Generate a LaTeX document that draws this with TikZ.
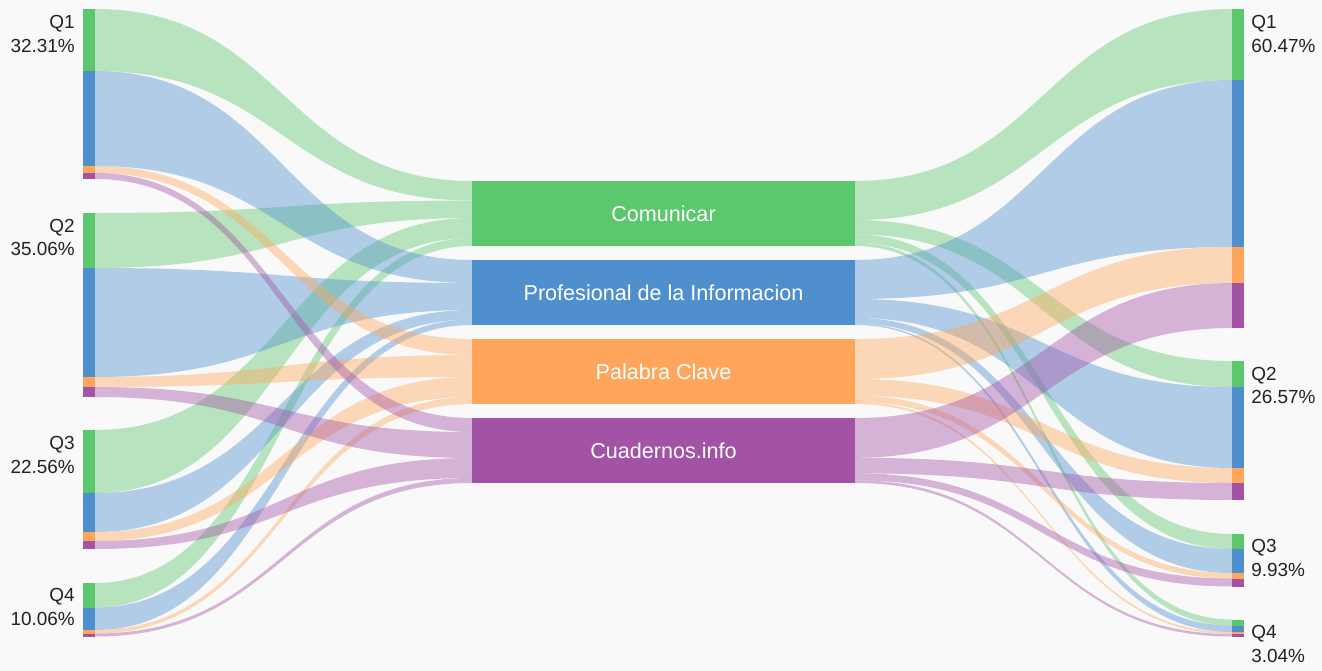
\documentclass[tikz,border=0pt]{standalone}
\usepackage{fontspec}
\setmainfont{Liberation Sans}
\definecolor{bgc}{HTML}{F9F9F9}
\definecolor{cG}{HTML}{5CC86E}
\definecolor{cB}{HTML}{4F8FCE}
\definecolor{cO}{HTML}{FFA65C}
\definecolor{cP}{HTML}{A353A6}
\definecolor{txt}{HTML}{222222}
\newcommand\sankeyL[5]{%
  \fill[#1,opacity=.42] (95,#2) .. controls (283.5,#2) and (283.5,#4) .. (472,#4) -- (472,#5) .. controls (283.5,#5) and (283.5,#3) .. (95,#3) -- cycle;}
\newcommand\sankeyR[5]{%
  \fill[#1,opacity=.42] (855,#2) .. controls (1043.5,#2) and (1043.5,#4) .. (1232,#4) -- (1232,#5) .. controls (1043.5,#5) and (1043.5,#3) .. (855,#3) -- cycle;}
\newcommand\lbar[5]{%
  \fill[cG] (83,#1) rectangle (95,#2);
  \fill[cB] (83,#2) rectangle (95,#3);
  \fill[cO] (83,#3) rectangle (95,#4);
  \fill[cP] (83,#4) rectangle (95,#5);}
\newcommand\rbar[5]{%
  \fill[cG] (1232,#1) rectangle (1244,#2);
  \fill[cB] (1232,#2) rectangle (1244,#3);
  \fill[cO] (1232,#3) rectangle (1244,#4);
  \fill[cP] (1232,#4) rectangle (1244,#5);}
\begin{document}
\begin{tikzpicture}[x=0.75pt,y=-0.75pt,
  journal/.style={minimum width=287.25pt,minimum height=48.75pt,inner sep=0pt,text=white,font=\fontsize{16.2}{19}\selectfont},
  lblL/.style={anchor=base east,inner sep=0pt,text=txt,font=\fontsize{14.2}{17}\selectfont},
  lblR/.style={anchor=base west,inner sep=0pt,text=txt,font=\fontsize{14.2}{17}\selectfont}]
\useasboundingbox (0,0) rectangle (1322,671);
\fill[bgc] (0,0) rectangle (1322,671);
% left flows
\sankeyL{cG}{9}{71}{181}{200.5}
\sankeyL{cG}{213}{268}{200.5}{218}
\sankeyL{cG}{430}{493}{218}{238}
\sankeyL{cG}{583}{607.5}{238}{246}
\sankeyL{cB}{71}{166}{260}{283}
\sankeyL{cB}{268}{377}{283}{310}
\sankeyL{cB}{493}{532}{310}{319.5}
\sankeyL{cB}{607.5}{630}{319.5}{325}
\sankeyL{cO}{166}{173}{339}{355}
\sankeyL{cO}{377}{387}{355}{377}
\sankeyL{cO}{532}{541}{377}{397}
\sankeyL{cO}{630}{633.5}{397}{404}
\sankeyL{cP}{173}{179}{418}{432}
\sankeyL{cP}{387}{397}{432}{458}
\sankeyL{cP}{541}{549}{458}{478}
\sankeyL{cP}{633.5}{636.5}{478}{483}
% right flows
\sankeyR{cG}{181}{220.1}{9}{80}
\sankeyR{cG}{220.1}{234.4}{361}{387}
\sankeyR{cG}{234.4}{242.7}{534}{549}
\sankeyR{cG}{242.7}{246}{619.5}{625.5}
\sankeyR{cB}{260}{299}{80}{247}
\sankeyR{cB}{299}{317.9}{387}{468}
\sankeyR{cB}{317.9}{323.5}{549}{573}
\sankeyR{cB}{323.5}{325}{625.5}{632}
\sankeyR{cO}{339}{379}{247}{283}
\sankeyR{cO}{379}{395.7}{468}{483}
\sankeyR{cO}{395.7}{401.8}{573}{578.5}
\sankeyR{cO}{401.8}{404}{632}{634}
\sankeyR{cP}{418}{457.8}{283}{328}
\sankeyR{cP}{457.8}{473.3}{483}{500}
\sankeyR{cP}{473.3}{480.3}{578.5}{586.5}
\sankeyR{cP}{480.3}{483}{634}{636.5}
% bars
\lbar{9}{71}{166}{173}{179}
\lbar{213}{268}{377}{387}{397}
\lbar{430}{493}{532}{541}{549}
\lbar{583}{607.5}{630}{633.5}{636.5}
\rbar{9}{80}{247}{283}{328}
\rbar{361}{387}{468}{483}{500}
\rbar{534}{549}{573}{578.5}{586.5}
\rbar{619.5}{625.5}{632}{634}{636.5}
% journals
\node[journal,fill=cG] (com) at (663.5,213.5) {Comunicar};
\node[journal,fill=cB] (pro) at (663.5,292.5) {Profesional de la Informacion};
\node[journal,fill=cO] (pal) at (663.5,371.5) {Palabra Clave};
\node[journal,fill=cP] (cua) at (663.5,450.5) {Cuadernos.info};
% labels
\node[lblL] (l1a) at (75,28) {Q1};
\node[lblL] (l1b) at (75,52) {32.31\%};
\node[lblL] (l2a) at (75,232) {Q2};
\node[lblL] (l2b) at (75,255) {35.06\%};
\node[lblL] (l3a) at (75,449) {Q3};
\node[lblL] (l3b) at (75,473) {22.56\%};
\node[lblL] (l4a) at (75,601) {Q4};
\node[lblL] (l4b) at (75,625) {10.06\%};
\node[lblR] (r1a) at (1251,28) {Q1};
\node[lblR] (r1b) at (1251,52) {60.47\%};
\node[lblR] (r2a) at (1251,380) {Q2};
\node[lblR] (r2b) at (1251,403) {26.57\%};
\node[lblR] (r3a) at (1251,552) {Q3};
\node[lblR] (r3b) at (1251,576) {9.93\%};
\node[lblR] (r4a) at (1251,638) {Q4};
\node[lblR] (r4b) at (1251,662) {3.04\%};
\end{tikzpicture}
\end{document}
